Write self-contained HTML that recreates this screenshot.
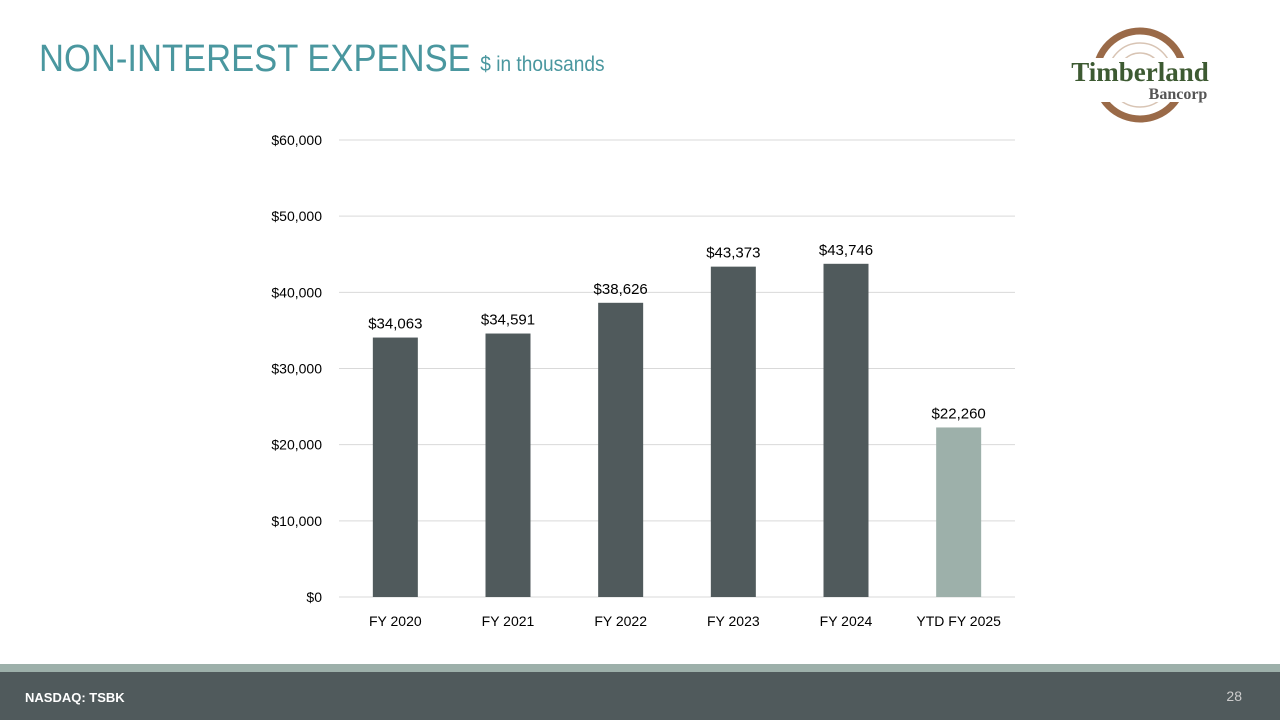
<!DOCTYPE html>
<html><head><meta charset="utf-8"><style>
body{margin:0;width:1280px;height:720px;background:#fff;position:relative;overflow:hidden;font-family:"Liberation Sans",sans-serif}
#title{position:absolute;left:39px;top:38px;color:#4a979f;font-size:38px;white-space:nowrap;transform:scaleX(0.91);transform-origin:0 0}
#title span{font-size:21px}
#foot1{position:absolute;left:0;top:664px;width:1280px;height:8px;background:#9db0aa}
#foot2{position:absolute;left:0;top:672px;width:1280px;height:48px;background:#505a5c;color:#fff}
</style></head><body>
<div id="title">NON-INTEREST EXPENSE <span>$ in thousands</span></div>
<svg style="position:absolute;left:1050px;top:25px" width="180" height="100">
<circle cx="90" cy="50" r="44" fill="none" stroke="#9a6a48" stroke-width="7"/>
<circle cx="90" cy="50" r="32" fill="none" stroke="#d8c4b4" stroke-width="1.5"/>
<circle cx="90" cy="50" r="22" fill="none" stroke="#d8c4b4" stroke-width="1.5"/>
<rect x="8" y="33" width="166" height="44" fill="#fff"/>
<text x="90" y="56" text-anchor="middle" font-family="Liberation Serif,serif" font-weight="bold" font-size="27" fill="#3d5a32">Timberland</text>
<text x="128" y="74" text-anchor="middle" font-family="Liberation Serif,serif" font-weight="bold" font-size="16" fill="#555">Bancorp</text>
</svg>
<svg id="chart" style="position:absolute;left:0;top:0" width="1280" height="660"></svg>
<div id="foot1"></div>
<div id="foot2">
<div style="position:absolute;left:25px;top:18px;font-size:13px;font-weight:bold">NASDAQ: TSBK</div>
<div style="position:absolute;right:38px;top:16px;font-size:14px;color:#ccc">28</div>
</div>
<script>
const categories=["FY 2020","FY 2021","FY 2022","FY 2023","FY 2024","YTD FY 2025"];
const values=[34063,34591,38626,43373,43746,22260];
const labels=["$34,063","$34,591","$38,626","$43,373","$43,746","$22,260"];
const ticks=[0,10000,20000,30000,40000,50000,60000];
const tickLabels=["$0","$10,000","$20,000","$30,000","$40,000","$50,000","$60,000"];
const NS="http://www.w3.org/2000/svg",svg=document.getElementById('chart');
const x0=339,x1=1015,yB=597,yT=140,max=60000;
const y=v=>yB-(yB-yT)*v/max;
const step=(x1-x0)/categories.length;
const xc=i=>x0+step*(i+0.5);
function mk(t,a,txt){const e=document.createElementNS(NS,t);for(const k in a)e.setAttribute(k,a[k]);if(txt!=null)e.textContent=txt;svg.appendChild(e);return e;}
ticks.forEach((t,i)=>{
 const g=mk('line',{x1:x0,x2:x1,y1:y(t),y2:y(t),stroke:'#d9d9d9','stroke-width':1});
 
 
 const l=mk('text',{x:322,y:y(t)+5,'text-anchor':'end','font-size':14,fill:'#000'},tickLabels[i]);
 
 
});
values.forEach((v,i)=>{
 const b=mk('rect',{x:xc(i)-22.5,y:y(v),width:45,height:yB-y(v),fill:i==5?'#9db0aa':'#505a5c'});
 
 
 const l=mk('text',{x:xc(i),y:y(v)-9,'text-anchor':'middle','font-size':15,fill:'#000'},labels[i]);
 
 
 const c=mk('text',{x:xc(i),y:626,'text-anchor':'middle','font-size':14,fill:'#000'},categories[i]);
 
 
});
</script>
</body></html>
